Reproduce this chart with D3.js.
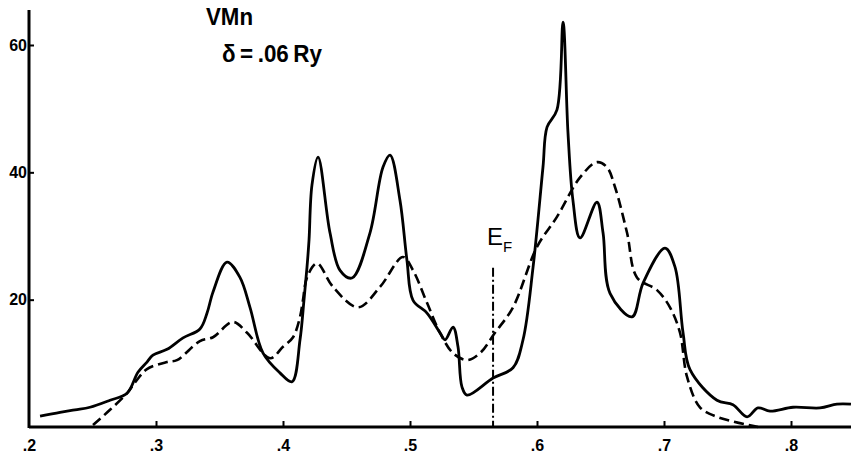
<!DOCTYPE html>
<html>
<head>
<meta charset="utf-8">
<script src="https://cdn.jsdelivr.net/npm/d3@7"></script>
<style>
  body { margin: 0; background: #fff; }
  svg text { font-family: "Liberation Sans", Arial, sans-serif; font-weight: bold; fill: #000; }
  .axis path, .axis line { stroke: #000; }
  .axis path { stroke-width: 3; }
  .axis line { stroke-width: 2; }
</style>
</head>
<body>
<svg id="chart" width="851" height="473"></svg>
<script>
// energy (Ry) and density of states
var solidE = [.2087, .2244, .2362, .2480, .2638, .2772, .2858, .2929, .2976, .3087, .3213, .3346, .3402, .3449, .3559,
    .3661, .3740, .3843, .3976, .4071, .4134, .4165, .4189, .4205, .4228, .4276, .4370, .4449, .4543, .4685, .4787, .4843,
    .4921, .4976, .5024, .5134, .5236, .5276, .5339, .5378, .5409, .5449, .5654, .5811, .5890, .5969, .6047,
    .6079, .6157, .6205, .6244, .6283, .6339, .6472, .6520, .6575, .6748, .6835, .7008, .7087, .7150, .7205,
    .7417, .7543, .7654, .7740, .7835, .8016, .8228, .8362, .8472];
var solidN = [1.7, 2.3, 2.7, 3.1, 4.2, 5.3, 8.6, 10.2, 11.3, 12.2, 14.0, 15.4, 17.9, 21.2, 25.9,
    23.5, 18.8, 11.6, 8.5, 7.1, 13.7, 19.9, 25.1, 29.4, 38.0, 42.4, 30.5, 24.6, 23.4, 30.5, 40.8, 42.7,
    35.6, 26.2, 19.9, 17.9, 14.8, 13.7, 15.7, 12.6, 6.3, 5.0, 7.7, 9.3, 13.7, 25.1, 40.8,
    47.1, 49.8, 63.6, 46.2, 35.6, 29.7, 35.3, 30.5, 21.0, 17.3, 22.6, 28.1, 25.1, 14.8, 9.0,
    4.2, 3.5, 1.6, 3.0, 2.5, 3.1, 3.0, 3.6, 3.6];

var dashE = [.2504, .2638, .2772, .2850, .2929, .3087, .3165, .3346, .3449, .3606, .3717, .3898, .4000, .4079, .4134,
    .4157, .4189, .4268, .4394, .4591, .4764, .4945, .5024, .5134, .5236, .5339, .5449, .5551, .5669, .5811, .6000,
    .6157, .6339, .6472, .6551, .6614, .6709, .6787, .6945, .7047, .7126, .7181, .7283, .7417, .7740];
var dashN = [0.3, 2.7, 5.3, 7.4, 9.1, 10.2, 10.5, 13.5, 14.1, 16.5, 14.8, 10.8, 12.6, 14.1, 17.3,
    19.9, 23.5, 25.7, 22.0, 18.8, 22.0, 26.7, 24.6, 19.5, 14.8, 11.6, 10.5, 11.6, 14.8, 18.8, 28.3,
    33.0, 39.2, 41.6, 40.8, 37.7, 30.5, 23.5, 21.5, 18.8, 14.8, 7.9, 3.1, 1.6, 0];

var xTicks = [.2, .3, .4, .5, .6, .7, .8];
var yTicks = [20, 40, 60];
var fermiE = 0.5654;
var fermiTop = 25;

var svg = d3.select("#chart");

var x = d3.scaleLinear().domain([0.2, 0.8]).range([29, 791]);
var y = d3.scaleLinear().domain([0, 60]).range([427, 45]);

var line = d3.line()
    .x(function (d) { return x(d[0]); })
    .y(function (d) { return y(d[1]); })
    .curve(d3.curveCatmullRom.alpha(0.5));

var solid = d3.zip(solidE, solidN);
var dashed = d3.zip(dashE, dashN);

// axes
var xAxis = svg.append("g")
    .attr("class", "axis")
    .attr("transform", "translate(0," + y(0) + ")")
    .call(d3.axisBottom(x)
        .tickValues(xTicks)
        .tickSize(-6)
        .tickSizeOuter(0)
        .tickPadding(13)
        .tickFormat(function (d) { return d3.format(".1f")(d).replace(/^0/, ""); }));
xAxis.select(".domain").attr("d", "M" + x(0.2) + ",0H851");
xAxis.selectAll("text").style("font-size", "16px");
xAxis.selectAll(".tick").filter(function (d) { return d === 0.2; }).select("line").remove();

var yAxis = svg.append("g")
    .attr("class", "axis")
    .attr("transform", "translate(" + x(0.2) + ",0)")
    .call(d3.axisLeft(y)
        .tickValues(yTicks)
        .tickSize(-5)
        .tickSizeOuter(0)
        .tickPadding(2));
yAxis.select(".domain").attr("d", "M0," + (y(0) + 1) + "V10");
yAxis.selectAll("text").style("font-size", "16px");

// curves
svg.append("path")
    .datum(dashed)
    .attr("d", line)
    .attr("fill", "none")
    .attr("stroke", "#000")
    .attr("stroke-width", 2.6)
    .attr("stroke-dasharray", "10,5");

svg.append("path")
    .datum(solid)
    .attr("d", line)
    .attr("fill", "none")
    .attr("stroke", "#000")
    .attr("stroke-width", 2.8);

// Fermi level
svg.append("line")
    .attr("x1", x(fermiE)).attr("x2", x(fermiE))
    .attr("y1", y(fermiTop)).attr("y2", y(0))
    .attr("stroke", "#000")
    .attr("stroke-width", 2)
    .attr("stroke-dasharray", "9,3,2,3");

var ef = svg.append("text")
    .attr("x", x(fermiE) - 6)
    .attr("y", 245)
    .style("font-size", "24px")
    .style("font-weight", "normal")
    .text("E");
ef.append("tspan")
    .attr("dy", 7)
    .style("font-size", "15px")
    .text("F");

// labels
svg.append("text")
    .attr("x", 206)
    .attr("y", 25)
    .attr("textLength", 47)
    .attr("lengthAdjust", "spacingAndGlyphs")
    .style("font-size", "24px")
    .text("VMn");

svg.append("text")
    .attr("x", 222)
    .attr("y", 62)
    .attr("textLength", 100)
    .attr("lengthAdjust", "spacingAndGlyphs")
    .style("font-size", "23px")
    .text("δ\u2009=\u2009.06\u2009Ry");
</script>
</body>
</html>
